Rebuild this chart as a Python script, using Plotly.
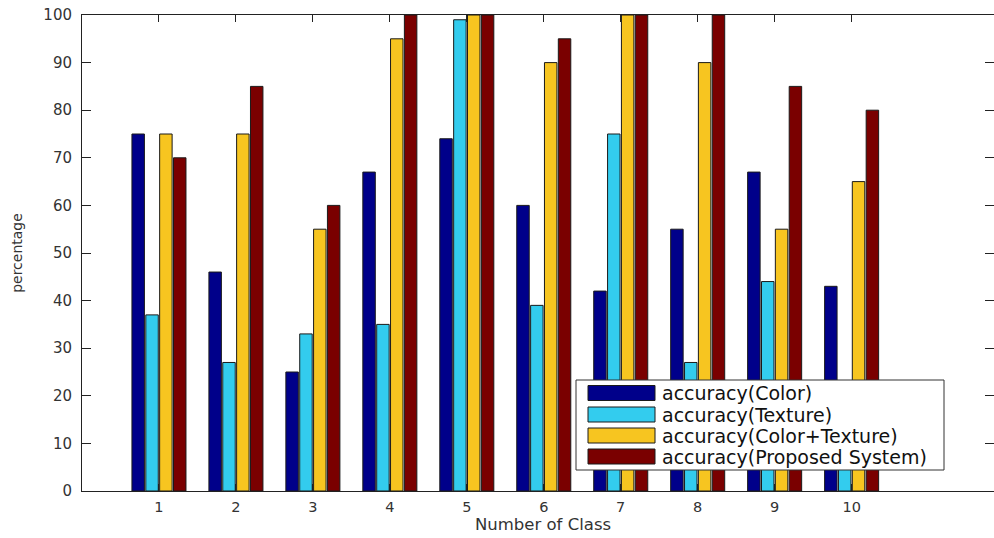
import plotly.graph_objects as go

classes = [1, 2, 3, 4, 5, 6, 7, 8, 9, 10]
acc_color = [75, 46, 25, 67, 74, 60, 42, 55, 67, 43]
acc_texture = [37, 27, 33, 35, 99, 39, 75, 27, 44, 20]
acc_color_texture = [75, 75, 55, 95, 100, 90, 100, 90, 55, 65]
acc_proposed = [70, 85, 60, 100, 100, 95, 100, 100, 85, 80]

series = [
    ("accuracy(Color)", acc_color, "#00008A"),
    ("accuracy(Texture)", acc_texture, "#33CCEE"),
    ("accuracy(Color+Texture)", acc_color_texture, "#F7C520"),
    ("accuracy(Proposed System)", acc_proposed, "#7A0000"),
]

W, H = 994, 538
ML, MR, MT, MB = 82, 0, 15, 47
PW, PH = W - ML - MR, H - MT - MB


def px_x(px):
    return (px - ML) / PW


def px_y(py):
    return (H - MB - py) / PH


fig = go.Figure()
for name, vals, col in series:
    fig.add_trace(go.Bar(
        x=classes, y=vals, name=name, showlegend=False,
        marker=dict(color=col, line=dict(color="#1a1a1a", width=1)),
    ))

font = "DejaVu Sans, Verdana, sans-serif"

# custom MATLAB-style legend
shapes = [dict(type="rect", xref="paper", yref="paper",
               x0=px_x(576), x1=px_x(944), y0=px_y(470), y1=px_y(380),
               fillcolor="white", line=dict(color="#333", width=1), layer="above")]
annotations = []
row_centers = [393, 414.5, 435.5, 456.5]
for (name, vals, col), cy in zip(series, row_centers):
    shapes.append(dict(type="rect", xref="paper", yref="paper",
                       x0=px_x(588), x1=px_x(655), y0=px_y(cy + 7.5), y1=px_y(cy - 7.5),
                       fillcolor=col, line=dict(color="#1a1a1a", width=1), layer="above"))
    annotations.append(dict(text=name, xref="paper", yref="paper",
                            x=px_x(660), y=px_y(cy), xanchor="left", yanchor="middle",
                            showarrow=False, font=dict(family=font, size=19, color="#111")))

annotations.append(dict(text="Number of Class", xref="paper", yref="paper",
                        x=px_x(543), y=px_y(524), xanchor="center", yanchor="middle",
                        showarrow=False, font=dict(family=font, size=16.5, color="#333")))

fig.update_layout(
    width=W, height=H,
    margin=dict(l=ML, r=MR, t=MT, b=MB),
    paper_bgcolor="white", plot_bgcolor="white",
    barmode="group", bargap=0.28, bargroupgap=0.1,
    font=dict(family=font, size=15, color="#333"),
    shapes=shapes, annotations=annotations,
    xaxis=dict(
        range=[0, 11.85], tickmode="array", tickvals=classes,
        ticktext=[str(c) for c in classes],
        ticks="inside", ticklen=7, tickcolor="#222",
        showline=True, linecolor="#222", linewidth=1, mirror="ticks",
        showgrid=False, zeroline=False, automargin=False,
        ticklabelstandoff=3,
        tickfont=dict(size=14.5),
    ),
    yaxis=dict(
        range=[0, 100], dtick=10,
        ticks="inside", ticklen=9, tickcolor="#222",
        showline=True, linecolor="#222", linewidth=1, mirror="ticks",
        showgrid=False, zeroline=False, automargin=False,
        ticklabelstandoff=6,
        title=dict(text="percentage", font=dict(size=14), standoff=17),
        tickfont=dict(size=15),
    ),
)

fig.write_html("out.html", config={"displayModeBar": False},
               post_script="document.body.style.margin='0';document.body.style.overflow='hidden';")
